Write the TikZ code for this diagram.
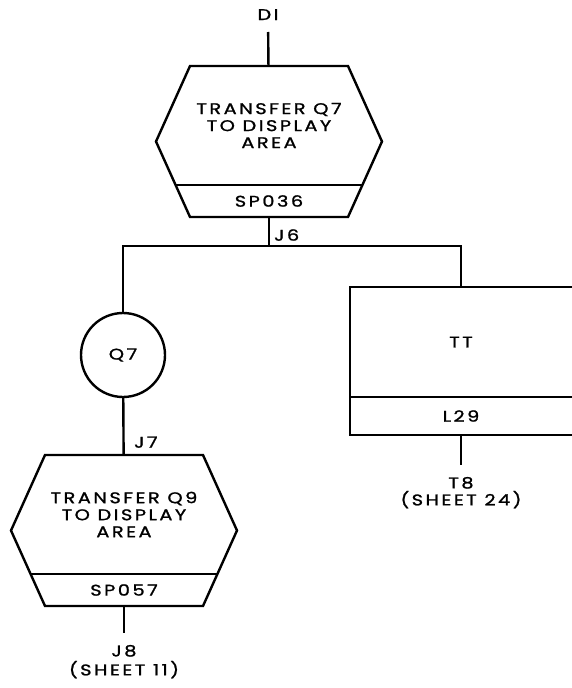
\documentclass[tikz,border=0pt]{standalone}
\usepackage{fontspec}
\setmainfont{Poppins}[FakeStretch=1.25,LetterSpace=16,FakeBold=1.3]
\usetikzlibrary{positioning,calc}

\begin{document}
\begin{tikzpicture}[
  x=1pt, y=1pt,
  line width=2.4pt,
  every node/.style={font=\fontsize{15.5}{17}\selectfont},
  hexbody/.style={minimum width=158pt, minimum height=119pt, inner sep=0pt, outer sep=0pt, align=center},
  hexband/.style={minimum width=158pt, minimum height=32pt, inner sep=0pt, outer sep=0pt},
  ttbody/.style={minimum width=222pt, minimum height=110pt, inner sep=0pt, outer sep=0pt},
  ttband/.style={minimum width=222pt, minimum height=38pt, inner sep=0pt, outer sep=0pt},
  connbox/.style={circle, draw, minimum size=84pt, inner sep=0pt},
  term/.style={align=center, inner sep=0pt, outer sep=12pt},
  tag/.style={inner sep=0pt}
]
  \useasboundingbox (0,0) rectangle (571,-688);

  % first transfer block
  \node[term, anchor=south] (di) at (268,-32) {DI};
  \node[hexbody] (sp036top) at (269,-125.5) {TRANSFER Q7\\TO DISPLAY\\AREA};
  \node[hexband, below=0pt of sp036top] (sp036) {SP036};
  \draw (sp036top.north west) -- (sp036top.north east)
    -- ($(sp036top.north east)!.5!(sp036.south east) + (34,0)$)
    -- (sp036.south east) -- (sp036.south west)
    -- ($(sp036top.north west)!.5!(sp036.south west) + (-34,0)$) -- cycle;
  \draw ($(sp036top.south west) + (-14,0)$) -- ($(sp036top.south east) + (14,0)$);
  \draw (di) -- (sp036top);

  % branch J6
  \coordinate (j6) at (269,-246);
  \node[tag, anchor=south west] (j6tag) at ($(j6) + (4,4)$) {J6};
  \node[connbox] (q7) at (123,-355) {Q7};
  \node[ttbody] (tt) at (461,-342) {TT};
  \node[ttband, below=0pt of tt] (l29) {L29};
  \draw (tt.north east) -- (tt.north west) -- (l29.south west) -- (l29.south east);
  \draw (tt.south west) -- (tt.south east);
  \draw (sp036) -- (j6);
  \draw (q7) |- (j6) -| (tt);

  % second transfer block
  \node[hexbody] (sp057top) at (124,-514.5) {TRANSFER Q9\\TO DISPLAY\\AREA};
  \node[hexband, below=0pt of sp057top] (sp057) {SP057};
  \draw (sp057top.north west) -- (sp057top.north east)
    -- ($(sp057top.north east)!.5!(sp057.south east) + (34,0)$)
    -- (sp057.south east) -- (sp057.south west)
    -- ($(sp057top.north west)!.5!(sp057.south west) + (-34,0)$) -- cycle;
  \draw ($(sp057top.south west) + (-14,0)$) -- ($(sp057top.south east) + (14,0)$);
  \draw (q7) -- (sp057top);
  \node[tag, anchor=south west] (j7tag) at ($(sp057top.north) + (9,6)$) {J7};

  % exits
  \node[term, anchor=north, text depth=1pt] (j8) at (124,-633) {J8\\[2pt](SHEET 11)};
  \draw (sp057) -- (j8);
  \node[term, anchor=north] (t8) at (461,-465) {T8\\(SHEET 24)};
  \draw (l29) -- (t8);
\end{tikzpicture}
\end{document}
